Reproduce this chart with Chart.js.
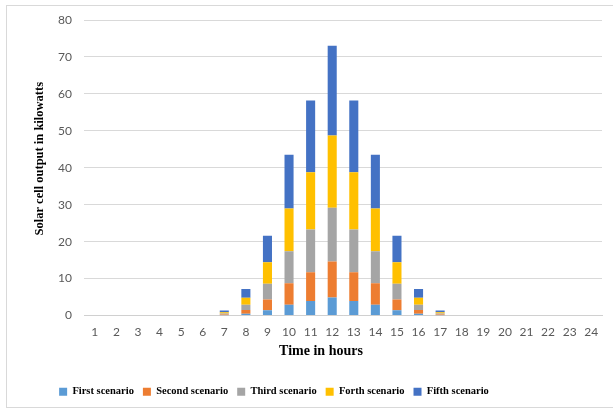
<!DOCTYPE html>
<html>
<head>
<meta charset="utf-8">
<script src="https://cdn.jsdelivr.net/npm/chart.js@4.4.1/dist/chart.umd.min.js"></script>
<style>
  html, body { margin: 0; padding: 0; background: #fff; overflow: hidden; }
  #wrap { position: relative; width: 613px; height: 413px; }
  #frame { position: absolute; left: 6px; top: 5px; width: 640px; height: 403px;
           border: 1px solid #d9d9d9; box-sizing: border-box; }
  canvas { position: absolute; left: 0; top: 0; }
</style>
</head>
<body>
<div id="wrap">
  <div id="frame"></div>
  <canvas id="chart" width="613" height="413"></canvas>
</div>
<script>
// Hours of the day
const hours = ['1','2','3','4','5','6','7','8','9','10','11','12',
               '13','14','15','16','17','18','19','20','21','22','23','24'];

// Solar cell output (kW) per scenario, stacked by hour
const firstScenario  = [0,0,0,0,0,0, 0.1, 0.5, 1.4,  2.9,  3.9,  4.9,  3.9,  2.9, 1.4, 0.5, 0.1, 0,0,0,0,0,0,0];
const secondScenario = [0,0,0,0,0,0, 0.2, 1.0, 2.9,  5.8,  7.8,  9.7,  7.8,  5.8, 2.9, 1.0, 0.2, 0,0,0,0,0,0,0];
const thirdScenario  = [0,0,0,0,0,0, 0.25,1.4, 4.3,  8.7, 11.6, 14.6, 11.6,  8.7, 4.3, 1.4, 0.25,0,0,0,0,0,0,0];
const forthScenario  = [0,0,0,0,0,0, 0.35,1.9, 5.8, 11.6, 15.5, 19.5, 15.5, 11.6, 5.8, 1.9, 0.35,0,0,0,0,0,0,0];
const fifthScenario  = [0,0,0,0,0,0, 0.45,2.4, 7.2, 14.5, 19.4, 24.3, 19.4, 14.5, 7.2, 2.4, 0.45,0,0,0,0,0,0,0];

const seriesNames = ['First scenario', 'Second scenario', 'Third scenario', 'Forth scenario', 'Fifth scenario'];
const seriesColors = ['#5B9BD5', '#ED7D31', '#A5A5A5', '#FFC000', '#4472C4'];
const seriesData = [firstScenario, secondScenario, thirdScenario, forthScenario, fifthScenario];

const yTicks = [0, 10, 20, 30, 40, 50, 60, 70, 80];
const xTitle = 'Time in hours';
const yTitle = 'Solar cell output in kilowatts';

const serif = '"Liberation Serif", "Times New Roman", serif';
const tickFont = { family: 'Lato, "Liberation Sans", sans-serif', size: 12 };

// Nudges the legend row to the left
const legendShift = {
  id: 'legendShift',
  afterLayout(chart) {
    const lg = chart.legend;
    if (lg) { lg.left -= 27; lg.right -= 27; }
  }
};

// Axis captions: horizontal one slightly left of the plot centre, vertical one a little raised
const axisCaptions = {
  id: 'axisCaptions',
  afterDraw(chart) {
    const { ctx, chartArea } = chart;
    ctx.save();
    ctx.fillStyle = '#000';
    ctx.textAlign = 'center';
    ctx.textBaseline = 'middle';
    ctx.font = 'bold 14px ' + serif;
    ctx.fillText(xTitle, (chartArea.left + chartArea.right) / 2 - 22, chartArea.bottom + 36);
    ctx.translate(40, (chartArea.top + chartArea.bottom) / 2 - 9);
    ctx.rotate(-Math.PI / 2);
    ctx.font = 'bold 12.5px ' + serif;
    ctx.fillText(yTitle, 0, 0);
    ctx.restore();
  }
};

new Chart(document.getElementById('chart'), {
  type: 'bar',
  data: {
    labels: hours,
    datasets: seriesData.map((d, i) => ({
      label: seriesNames[i],
      data: d,
      backgroundColor: seriesColors[i],
      borderWidth: 0,
      categoryPercentage: 1.0,
      barPercentage: 0.42
    }))
  },
  options: {
    responsive: false,
    animation: false,
    devicePixelRatio: 1,
    layout: { padding: { left: 0, right: 11, top: 20, bottom: 6 } },
    plugins: {
      tooltip: { enabled: false },
      legend: {
        position: 'bottom',
        labels: {
          boxWidth: 8,
          boxHeight: 8,
          padding: 9,
          color: '#000',
          font: { family: serif, size: 10.5, weight: 'bold' }
        }
      }
    },
    scales: {
      x: {
        stacked: true,
        grid: { display: false, drawTicks: false },
        border: { display: true, color: '#d0d0d0', width: 1 },
        ticks: { color: '#595959', font: tickFont, padding: 9, maxRotation: 0, autoSkip: false },
        title: { display: false },
        afterFit(scale) { scale.height = 62; }
      },
      y: {
        stacked: true,
        min: 0,
        max: 80,
        afterBuildTicks(scale) { scale.ticks = yTicks.map(v => ({ value: v })); },
        grid: { color: '#d9d9d9', lineWidth: 1, drawTicks: false },
        border: { display: false },
        ticks: { color: '#595959', font: tickFont, padding: 12 },
        title: { display: false },
        afterFit(scale) { scale.width = 84; }
      }
    }
  },
  plugins: [legendShift, axisCaptions]
});
</script>
</body>
</html>
